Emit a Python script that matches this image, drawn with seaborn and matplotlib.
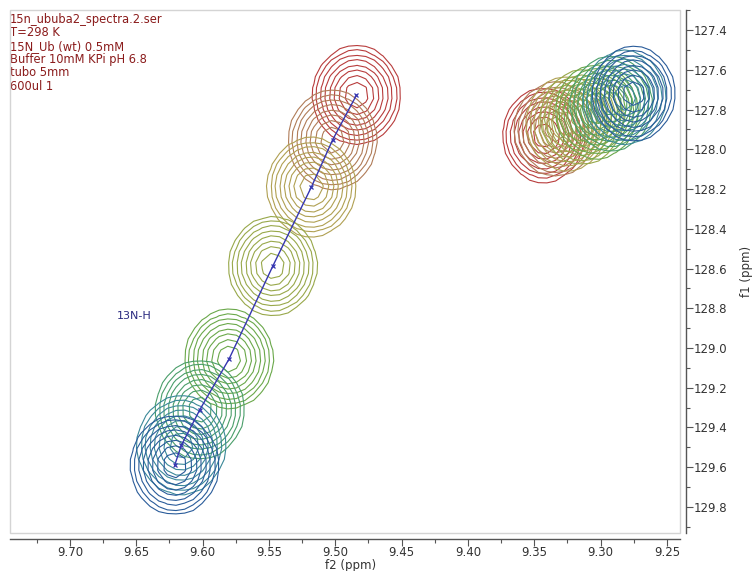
import numpy as np
import seaborn as sns
import matplotlib.pyplot as plt
from matplotlib.patches import Rectangle
from matplotlib.ticker import MultipleLocator

# Peak centres (f2 = 1H ppm, f1 = 15N ppm), titration order red -> blue
left_f2 = [9.484, 9.502, 9.518, 9.547, 9.580, 9.602, 9.616, 9.621]
left_f1 = [127.727, 127.953, 128.190, 128.587, 129.055, 129.310, 129.490, 129.590]
right_f2 = [9.343, 9.334, 9.325, 9.314, 9.303, 9.292, 9.282, 9.275]
right_f1 = [127.93, 127.90, 127.87, 127.84, 127.81, 127.77, 127.74, 127.72]
spectrum_colors = ['#b83c3c', '#b07c58', '#b0a052', '#98a84a',
                   '#6aa84a', '#4a9e6a', '#3a8898', '#2a5c9a']

header_lines = ['15n_ububa2_spectra.2.ser', 'T=298 K', '15N_Ub (wt) 0.5mM',
                'Buffer 10mM KPi pH 6.8', 'tubo 5mm', '600ul 1']
x_ticks = [9.70, 9.65, 9.60, 9.55, 9.50, 9.45, 9.40, 9.35, 9.30, 9.25]
y_ticks = [127.4, 127.6, 127.8, 128.0, 128.2, 128.4, 128.6, 128.8, 129.0, 129.2, 129.4, 129.6, 129.8]

sns.set_style('white')
plt.rcParams['font.family'] = ['DejaVu Sans']

fig = plt.figure(figsize=(7.56, 5.71), dpi=100)
ax = fig.add_axes([10 / 756, 1 - 533 / 571, 670 / 756, 523 / 571])

# coarse grid so contours look like the processed spectrum
gx = np.arange(9.23, 9.76, 0.0065)
gy = np.arange(127.25, 129.98, 0.055)
X, Y = np.meshgrid(gx, gy)
levels = [0.05, 0.085, 0.14, 0.22, 0.33, 0.46, 0.62, 0.8]


def draw_peak(x0, y0, sx, sy, color):
    Z = np.exp(-0.5 * ((X - x0) / sx) ** 2 - 0.5 * ((Y - y0) / sy) ** 2)
    ax.contour(X, Y, Z, levels=levels, colors=color, linewidths=0.8)


for x0, y0, c in zip(left_f2, left_f1, spectrum_colors):
    draw_peak(x0, y0, 0.0135, 0.1, c)
for x0, y0, c in zip(right_f2, right_f1, spectrum_colors):
    draw_peak(x0, y0, 0.0125, 0.095, c)

# chemical shift trajectory
sns.lineplot(x=left_f2, y=left_f1, sort=False, estimator=None, ax=ax,
             color='#3535b0', lw=1, marker='x', markersize=3.5,
             markeredgecolor='#3535b0', markeredgewidth=0.9)

ax.set_xlim(9.7451, 9.2402)
ax.set_ylim(129.931, 127.299)

# light frame around the data area, axes drawn offset
ax.add_patch(Rectangle((0, 0), 1, 1, transform=ax.transAxes, fill=False,
                       edgecolor='#d4d4d4', lw=1, clip_on=False, zorder=5))
for s in ['top', 'left']:
    ax.spines[s].set_visible(False)
for s in ['bottom', 'right']:
    ax.spines[s].set_visible(True)
    ax.spines[s].set_color('#555555')
    ax.spines[s].set_linewidth(1)
    ax.spines[s].set_position(('outward', 4))

ax.yaxis.tick_right()
ax.yaxis.set_label_position('right')
ax.set_xticks(x_ticks)
ax.set_xticklabels([f'{v:.2f}' for v in x_ticks])
ax.set_yticks(y_ticks)
ax.set_yticklabels([f'{v:.1f}' for v in y_ticks])
ax.xaxis.set_minor_locator(MultipleLocator(0.025))
ax.yaxis.set_minor_locator(MultipleLocator(0.1))
ax.tick_params(axis='both', which='major', direction='out', length=5, width=0.8,
               color='#555555', labelcolor='#333333', labelsize=8.5)
ax.tick_params(axis='x', which='major', pad=0.5)
ax.tick_params(axis='y', which='major', pad=1)
ax.tick_params(axis='both', which='minor', direction='out', length=3, width=0.8,
               color='#555555')
ax.tick_params(axis='x', bottom=True, which='both')
ax.tick_params(axis='y', right=True, left=False, which='both')

ax.set_xlabel('f2 (ppm)', fontsize=8.5, color='#333333')
ax.set_ylabel('f1 (ppm)', fontsize=8.5, color='#333333', labelpad=9)
ax.xaxis.set_label_coords(0.509, -0.0505)

for i, line in enumerate(header_lines):
    ax.text(0.0, 1 - (3 + i * 13.3) / 523, line, transform=ax.transAxes,
            fontsize=8.3, color='#8b1c1c', va='top', ha='left')

ax.text(9.6647, 128.84, '13N-H', fontsize=8, color='#2a2a80', va='center', ha='left')

fig.savefig('out.png', dpi=100)
